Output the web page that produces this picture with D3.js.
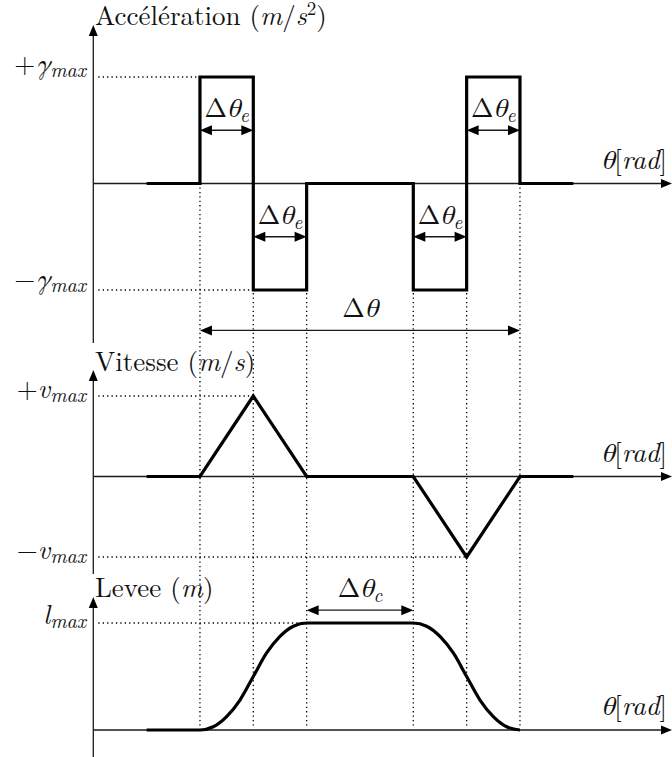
<!DOCTYPE html>
<html>
<head>
<meta charset="utf-8">
<script src="https://cdn.jsdelivr.net/npm/d3@7"></script>
<style>
  body { margin: 0; background: #fff; }
  svg { display: block; }
</style>
</head>
<body>
<div id="chart"></div>
<script>
// ---- data (theta in units) ----
const theta    = [1, 2, 3, 4, 6, 7, 8, 9];
const accel    = [0, 1, -1, 0, -1, 1, 0, 0];
const vitesse  = [0, 0, 1, 0, 0, -1, 0, 0];

const leveeTheta = [1, 2, 2.25, 2.5, 2.75, 3, 3.25, 3.5, 3.75, 4, 6, 6.25, 6.5, 6.75, 7, 7.25, 7.5, 7.75, 8];
const levee      = [0, 0, 0.03, 0.125, 0.28, 0.5, 0.72, 0.875, 0.97, 1, 1, 0.97, 0.875, 0.72, 0.5, 0.28, 0.125, 0.03, 0];

// vertical guide lines
const guides = [2, 3, 4, 6, 7, 8];

// dimension arrows
const cotePanel = ["acc", "acc", "acc", "acc", "acc", "lev"];
const coteFrom  = [2, 7, 3, 6, 2, 4];
const coteTo    = [3, 8, 4, 7, 8, 6];
const coteLevel = [0.5, 0.5, -0.5, -0.5, -1.38, 1.12];
const coteSub   = ["e", "e", "e", "e", "", "c"];

/*********************
***** BASIC SETUP *****
*********************/
const width = 672, height = 757;
const FONT = '"Latin Modern Roman", "TeX Gyre Termes", "Liberation Serif", serif';

const svg = d3.select("#chart").append("svg")
  .attr("width", width).attr("height", height);

const x = d3.scaleLinear().domain([0, 9]).range([93.3, 573.3]);

const panels = {
  acc: { y: d3.scaleLinear().domain([-1, 1]).range([290, 77]), top: 25, bottom: 343 },
  vit: { y: d3.scaleLinear().domain([-1, 1]).range([557, 396]), top: 370, bottom: 574 },
  lev: { y: d3.scaleLinear().domain([0, 1]).range([730, 623]), top: 597, bottom: 757 }
};

const thin = "#1a1a1a";

function head(g, tx, ty, dir, len, half) {
  // dir: "r","l","u"
  let p;
  if (dir === "r") p = [[tx, ty], [tx - len, ty - half], [tx - len, ty + half]];
  if (dir === "l") p = [[tx, ty], [tx + len, ty - half], [tx + len, ty + half]];
  if (dir === "u") p = [[tx, ty], [tx - half, ty + len], [tx + half, ty + len]];
  g.append("path").attr("d", "M" + p.join("L") + "Z").attr("fill", "#000");
}

function label(g, lx, ly, parts, anchor) {
  const t = g.append("text").attr("x", lx).attr("y", ly)
    .attr("text-anchor", anchor || "start")
    .style("font-family", FONT)
    .style("font-size", "27px")
    .style("fill", "#111");
  parts.forEach(p => {
    t.append("tspan").text(p.t)
      .style("font-style", p.i ? "italic" : null)
      .style("font-size", p.s ? p.s + "px" : null)
      .attr("dy", p.dy || null);
  });
  return t;
}

/*******************
***** GUIDES *****
*******************/
const gGuide = svg.append("g");
gGuide.selectAll(".vguide")
  .data(guides)
  .enter().append("line")
  .attr("x1", d => x(d)).attr("x2", d => x(d))
  .attr("y1", panels.acc.y(0) + 4).attr("y2", panels.lev.y(0) - 3)
  .attr("stroke", "#000").attr("stroke-width", 1.3)
  .attr("stroke-dasharray", "1.3,3.1");

// horizontal dotted lines to the extreme values
const hguides = [
  { p: "acc", v: 1, to: 2 },
  { p: "acc", v: -1, to: 3 },
  { p: "vit", v: 1, to: 3 },
  { p: "vit", v: -1, to: 7 },
  { p: "lev", v: 1, to: 4 }
];
gGuide.selectAll(".hguide")
  .data(hguides)
  .enter().append("line")
  .attr("x1", x(0) + 5).attr("x2", d => x(d.to))
  .attr("y1", d => panels[d.p].y(d.v)).attr("y2", d => panels[d.p].y(d.v))
  .attr("stroke", "#000").attr("stroke-width", 1.3)
  .attr("stroke-dasharray", "1.3,3.1");

/******************
***** AXES *****
******************/
const gAxes = svg.append("g");
Object.keys(panels).forEach(k => {
  const P = panels[k];
  gAxes.append("line")
    .attr("x1", x(0)).attr("x2", x(0))
    .attr("y1", P.bottom).attr("y2", P.top + 8)
    .attr("stroke", thin).attr("stroke-width", 1.3);
  head(gAxes, x(0), P.top, "u", 11, 4.5);
  gAxes.append("line")
    .attr("x1", x(0)).attr("x2", width - 8)
    .attr("y1", P.y(0)).attr("y2", P.y(0))
    .attr("stroke", thin).attr("stroke-width", 1.3);
  head(gAxes, width, P.y(0), "r", 11, 4.5);
  label(gAxes, 667, P.y(0) - 15, [{ t: "θ", i: 1 }, { t: "[" }, { t: "rad", i: 1 }, { t: "]" }], "end");
});

/*********************
***** CURVES *****
*********************/
const gCurves = svg.append("g");

const accLine = d3.line()
  .x((d, i) => x(theta[i]))
  .y(d => panels.acc.y(d))
  .curve(d3.curveStepAfter);

const vitLine = d3.line()
  .x((d, i) => x(theta[i]))
  .y(d => panels.vit.y(d));

const levLine = d3.line()
  .x((d, i) => x(leveeTheta[i]))
  .y(d => panels.lev.y(d))
  .curve(d3.curveMonotoneX);

[[accLine, accel], [vitLine, vitesse], [levLine, levee]].forEach(([gen, vals]) => {
  gCurves.append("path")
    .datum(vals)
    .attr("d", gen)
    .attr("fill", "none")
    .attr("stroke", "#000")
    .attr("stroke-width", 3.2)
    .attr("stroke-linejoin", "miter");
});

/***************************
***** DIMENSION ARROWS *****
***************************/
const gCote = svg.append("g");
coteFrom.forEach((f, i) => {
  const yy = panels[cotePanel[i]].y(coteLevel[i]);
  const x1 = x(f), x2 = x(coteTo[i]);
  gCote.append("line")
    .attr("x1", x1 + 6).attr("x2", x2 - 6)
    .attr("y1", yy).attr("y2", yy)
    .attr("stroke", thin).attr("stroke-width", 1.3);
  head(gCote, x1, yy, "l", 12, 5);
  head(gCote, x2, yy, "r", 12, 5);
  const parts = [{ t: "Δ" }, { t: "θ", i: 1 }];
  if (coteSub[i]) parts.push({ t: coteSub[i], i: 1, s: 19, dy: 5 });
  label(gCote, (x1 + x2) / 2, yy - 13, parts, "middle");
});

/*****************
***** LABELS *****
*****************/
const gLab = svg.append("g");
label(gLab, 95, 25, [{ t: "Accélération (" }, { t: "m", i: 1 }, { t: "/" }, { t: "s", i: 1 },
  { t: "2", s: 19, dy: -10 }, { t: ")", dy: 10 }]);
label(gLab, 95, 371, [{ t: "Vitesse (" }, { t: "m", i: 1 }, { t: "/" }, { t: "s", i: 1 }, { t: ")" }]);
label(gLab, 95, 597, [{ t: "Levee (" }, { t: "m", i: 1 }, { t: ")" }]);

const sub = { t: "max", i: 1, s: 20, dy: 4 };
label(gLab, 86, panels.acc.y(1) - 4, [{ t: "+" }, { t: "γ", i: 1 }, sub], "end");
label(gLab, 86, panels.acc.y(-1) - 2, [{ t: "−" }, { t: "γ", i: 1 }, sub], "end");
label(gLab, 86, panels.vit.y(1) + 2, [{ t: "+" }, { t: "v", i: 1 }, sub], "end");
label(gLab, 86, panels.vit.y(-1) + 2, [{ t: "−" }, { t: "v", i: 1 }, sub], "end");
label(gLab, 86, panels.lev.y(1) + 1, [{ t: "l", i: 1 }, sub], "end");
</script>
</body>
</html>
